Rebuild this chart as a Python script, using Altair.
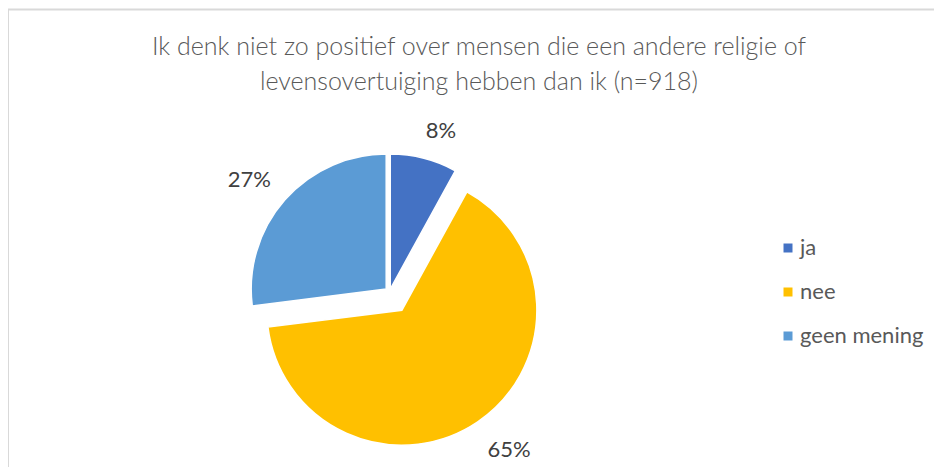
import altair as alt
import pandas as pd

# ---- data ----
categories = ["ja", "nee", "geen mening"]
values = [8, 65, 27]
labels = ["8%", "65%", "27%"]
colors = ["#4472C4", "#FFC000", "#5B9BD5"]
title_lines = [
    "Ik denk niet zo positief over mensen die een andere religie of",
    "levensovertuiging hebben dan ik (n=918)",
]

df = pd.DataFrame({
    "cat": categories,
    "value": values,
    "label": labels,
    "order": list(range(len(categories))),
})

W, H = 926, 459
CX, CY, R = 381.5, 284.0, 135
FONT = "Lato"

explode_expr = "datum.cat == 'nee' ? 22 : (datum.cat == 'ja' ? 3 : 4.4)"
lr_expr = "datum.cat == 'nee' ? 176 : (datum.cat == 'ja' ? 166 : 175)"
shift_expr = "(datum.cat == 'nee' ? -3.3 : (datum.cat == 'ja' ? 3.4 : -2.9)) * PI / 180"

base = (
    alt.Chart(df)
    .transform_joinaggregate(total="sum(value)")
    .transform_window(cum="sum(value)", sort=[alt.SortField("order")], frame=[None, 0])
    .transform_calculate(
        t1="2 * PI * datum.cum / datum.total",
        t0="2 * PI * (datum.cum - datum.value) / datum.total",
    )
    .transform_calculate(mid="(datum.t0 + datum.t1) / 2", ex=explode_expr,
                         lr=lr_expr, sh=shift_expr)
    .transform_calculate(
        px=f"{CX} + datum.ex * sin(datum.mid)",
        py=f"{CY} - datum.ex * cos(datum.mid)",
    )
    .transform_calculate(
        lx="datum.px + datum.lr * sin(datum.mid + datum.sh)",
        ly="datum.py - datum.lr * cos(datum.mid + datum.sh)",
    )
)

arcs = base.mark_arc(radius=R, stroke="white", strokeWidth=1.5).encode(
    theta=alt.Theta("t0:Q", scale=None, stack=False),
    theta2="t1:Q",
    x=alt.X("px:Q", scale=None, stack=False),
    y=alt.Y("py:Q", scale=None, stack=False),
    color=alt.Color(
        "cat:N",
        scale=alt.Scale(domain=categories, range=colors),
        legend=alt.Legend(
            title=None,
            orient="none",
            legendX=769,
            legendY=229,
            symbolType="square",
            symbolSize=81,
            symbolStrokeWidth=0,
            labelFontSize=22,
            labelFont=FONT,
            labelColor="#595959",
            labelOffset=1,
            rowPadding=22,
            padding=0,
        ),
    ),
)

pct = base.mark_text(font=FONT, fontSize=22, color="#404040",
                     align="center", baseline="middle").encode(
    x=alt.X("lx:Q", scale=None, stack=False),
    y=alt.Y("ly:Q", scale=None, stack=False),
    text="label:N",
)

one = pd.DataFrame({"k": [0]})

title = alt.Chart(one).mark_text(
    font=FONT, fontSize=25, fontWeight=300, color="#595959", align="center",
    baseline="middle", lineHeight=35,
).encode(x=alt.value(471), y=alt.value(39), text=alt.value(title_lines))

frame_left = alt.Chart(one).mark_rule(color="#d9d9d9", strokeWidth=2).encode(
    x=alt.value(0), y=alt.value(1.5), y2=alt.value(H + 10)
)
frame_top = alt.Chart(one).mark_rule(color="#d9d9d9", strokeWidth=2).encode(
    x=alt.value(0), x2=alt.value(W + 20), y=alt.value(1.5)
)

chart = (
    alt.layer(frame_left, frame_top, title, arcs, pct)
    .properties(width=W, height=H, padding=0, autosize="none")
    .configure_view(stroke=None)
)

chart.save("out.html", embed_options={"renderer": "svg", "actions": False})
